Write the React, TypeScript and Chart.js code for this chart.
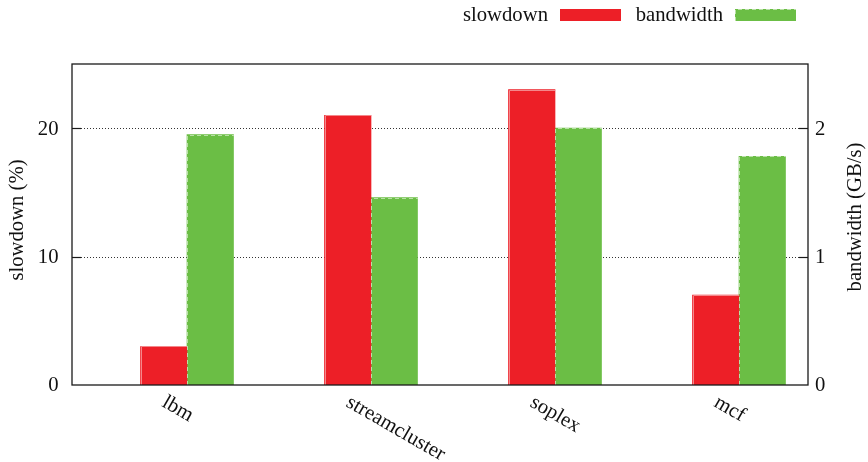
import { useEffect, useRef } from 'react';
import { Chart, registerables } from 'chart.js';

Chart.register(...registerables);

// Benchmarks and measured values
const categories = ['lbm', 'streamcluster', 'soplex', 'mcf'];
const slowdown = [3, 21, 23, 7]; // %
const bandwidth = [1.95, 1.46, 2.0, 1.78]; // GB/s
const slowdownTicks = [0, 10, 20];
const bandwidthTicks = [0, 1, 2];

const RED = '#ED1F27';
const GREEN = '#6BBE45';
const FONT = '"Liberation Serif", "Times New Roman", serif';

const gnuplotStyle = {
  id: 'gnuplotStyle',
  beforeDatasetsDraw(chart: any) {
    const { ctx, chartArea } = chart;
    const y = chart.scales.y;
    ctx.save();
    ctx.strokeStyle = '#333';
    ctx.lineWidth = 1;
    ctx.setLineDash([1, 2]);
    for (const t of slowdownTicks) {
      if (t === 0) continue;
      const py = Math.round(y.getPixelForValue(t)) + 0.5;
      ctx.beginPath();
      ctx.moveTo(chartArea.left, py);
      ctx.lineTo(chartArea.right, py);
      ctx.stroke();
    }
    ctx.restore();
  },
  afterDatasetsDraw(chart: any) {
    const { ctx, chartArea } = chart;
    const { left, right, top, bottom } = chartArea;
    const x = chart.scales.x;
    const y = chart.scales.y;
    const y1 = chart.scales.y1;

    // light bar edges
    ctx.save();
    const edges = [
      { meta: chart.getDatasetMeta(0), color: '#F4878A', dash: [] as number[] },
      { meta: chart.getDatasetMeta(1), color: '#B9E0A6', dash: [4, 3] },
    ];
    for (const e of edges) {
      ctx.strokeStyle = e.color;
      ctx.lineWidth = 1;
      ctx.setLineDash(e.dash);
      for (const bar of e.meta.data) {
        const bl = Math.round(bar.x - bar.width / 2) + 0.5;
        const bt = Math.round(bar.y) + 0.5;
        ctx.beginPath();
        ctx.moveTo(bl, bar.base);
        ctx.lineTo(bl, bt);
        ctx.lineTo(Math.round(bar.x + bar.width / 2), bt);
        ctx.stroke();
      }
    }
    ctx.restore();

    // frame
    ctx.save();
    ctx.strokeStyle = '#1a1a1a';
    ctx.lineWidth = 1.3;
    ctx.strokeRect(left, top, right - left, bottom - top);

    // inward tick marks
    ctx.lineWidth = 1.2;
    for (const t of slowdownTicks) {
      if (t === 0) continue;
      const py = Math.round(y.getPixelForValue(t)) + 0.5;
      ctx.beginPath();
      ctx.moveTo(left, py);
      ctx.lineTo(left + 9, py);
      ctx.stroke();
    }
    for (const t of bandwidthTicks) {
      if (t === 0) continue;
      const py = Math.round(y1.getPixelForValue(t)) + 0.5;
      ctx.beginPath();
      ctx.moveTo(right, py);
      ctx.lineTo(right - 9, py);
      ctx.stroke();
    }

    ctx.fillStyle = '#111';
    ctx.font = `20.7px ${FONT}`;

    // y tick labels
    ctx.textBaseline = 'middle';
    ctx.textAlign = 'right';
    for (const t of slowdownTicks) {
      ctx.fillText(String(t), left - 13.5, y.getPixelForValue(t) + 1);
    }
    ctx.textAlign = 'left';
    for (const t of bandwidthTicks) {
      ctx.fillText(String(t), right + 7, y1.getPixelForValue(t) + 1);
    }

    // axis titles
    ctx.textAlign = 'center';
    ctx.save();
    ctx.translate(17.5, 220);
    ctx.rotate(-Math.PI / 2);
    ctx.fillText('slowdown (%)', 0, 0);
    ctx.restore();
    ctx.save();
    ctx.translate(855.5, 217);
    ctx.rotate(-Math.PI / 2);
    ctx.fillText('bandwidth (GB/s)', 0, 0);
    ctx.restore();

    // rotated category labels
    ctx.textAlign = 'left';
    ctx.textBaseline = 'top';
    categories.forEach((c, i) => {
      const px = x.getPixelForValue(i);
      ctx.save();
      ctx.translate(px - 18, 392);
      ctx.rotate(Math.PI / 6);
      ctx.fillText(c, 0, 0);
      ctx.restore();
    });

    // key
    ctx.textAlign = 'right';
    ctx.textBaseline = 'alphabetic';
    ctx.fillText('slowdown', 548, 20.5);
    ctx.fillText('bandwidth', 723, 20.5);
    ctx.fillStyle = RED;
    ctx.fillRect(560, 9, 61, 12);
    ctx.fillStyle = GREEN;
    ctx.fillRect(735, 9, 61, 12);
    ctx.strokeStyle = '#B9E0A6';
    ctx.lineWidth = 1;
    ctx.setLineDash([4, 3]);
    ctx.beginPath();
    ctx.moveTo(735.5, 21);
    ctx.lineTo(735.5, 9.5);
    ctx.lineTo(796, 9.5);
    ctx.stroke();
    ctx.restore();
  },
};

export default function App() {
  const canvasRef = useRef<HTMLCanvasElement | null>(null);

  useEffect(() => {
    if (!canvasRef.current) return;
    const chart = new Chart(canvasRef.current, {
      type: 'bar',
      data: {
        datasets: [
          {
            label: 'slowdown',
            data: categories.map((_, i) => ({ x: i, y: slowdown[i] })),
            backgroundColor: RED,
            borderWidth: 0,
            yAxisID: 'y',
            barThickness: 46.5,
          },
          {
            label: 'bandwidth',
            data: categories.map((_, i) => ({ x: i, y: bandwidth[i] })),
            backgroundColor: GREEN,
            borderWidth: 0,
            yAxisID: 'y1',
            barThickness: 46.5,
          },
        ],
      },
      options: {
        animation: false,
        responsive: true,
        maintainAspectRatio: false,
        layout: { padding: { top: 64, left: 0, right: 0, bottom: 0 } },
        plugins: { legend: { display: false }, tooltip: { enabled: false } },
        scales: {
          x: {
            type: 'linear',
            offset: false,
            min: -0.625,
            max: 3.375,
            ticks: { display: false },
            grid: { display: false, offset: false },
            border: { display: false },
            afterFit: (s: any) => {
              s.height = 77;
            },
          },
          y: {
            position: 'left',
            min: 0,
            max: 25,
            ticks: { display: false },
            grid: { display: false },
            border: { display: false },
            afterFit: (s: any) => {
              s.width = 72;
            },
          },
          y1: {
            position: 'right',
            min: 0,
            max: 2.5,
            ticks: { display: false },
            grid: { display: false },
            border: { display: false },
            afterFit: (s: any) => {
              s.width = 60;
            },
          },
        },
      } as any,
      plugins: [gnuplotStyle],
    });
    return () => chart.destroy();
  }, []);

  return (
    <div style={{ position: 'absolute', left: 0, top: 0, width: 868, height: 462, background: '#fff' }}>
      <canvas ref={canvasRef} />
    </div>
  );
}
